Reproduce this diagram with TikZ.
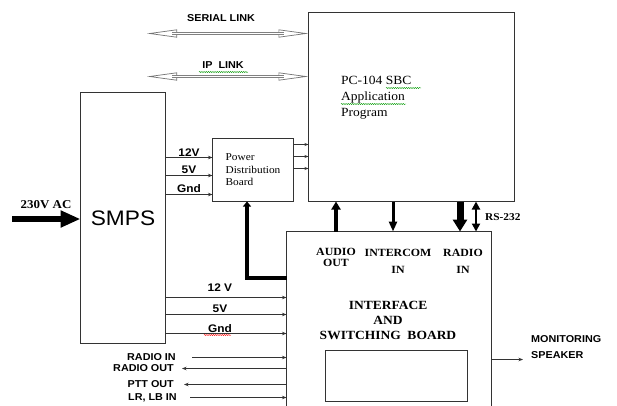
\documentclass[tikz,border=0pt]{standalone}
\usepackage{fontspec}
\setmainfont{Liberation Serif}[FakeStretch=1.08]
\setsansfont{Liberation Sans}[FakeStretch=1.08]
\usetikzlibrary{arrows.meta,decorations.pathmorphing}

\begin{document}
\begin{tikzpicture}[x=1pt, y=-1pt,
  box/.style={draw=black!80, line width=0.9pt, inner sep=0pt, outer sep=0pt},
  wire/.style={draw=black!80, line width=0.8pt, -{Stealth[length=4.5pt,width=3.5pt]}},
  linktips/.style={draw=black!55, line width=0.7pt,
    {Triangle[open,length=30pt,width=8pt,fill=white]}-{Triangle[open,length=30pt,width=8pt,fill=white]}},
  linkbody/.style={draw=black!50, line width=1pt, double=white, double distance=1pt,
    shorten <=25pt, shorten >=25pt},
  sans/.style={font=\sffamily\bfseries\fontsize{10}{12}\selectfont, inner sep=1pt},
  volt/.style={font=\sffamily\bfseries\fontsize{11}{13}\selectfont, inner sep=1pt},
  serif/.style={font=\bfseries\fontsize{11}{11.5}\selectfont, align=center, inner sep=0pt},
  squig/.style={green!60!black, line width=0.4pt, decorate,
    decoration={snake, amplitude=0.6pt, segment length=2.2pt}}
]
\clip (0,0) rectangle (617,405);

\node[box, minimum width=85pt, minimum height=251pt, font=\sffamily\fontsize{21}{24}\selectfont] (smps) at (123,218) {SMPS};
\node[box, minimum width=81pt, minimum height=63pt, align=left, font=\fontsize{10.5}{12.5}\selectfont] (pdb) at (253,170) {Power\\Distribution\\Board};
\node[box, minimum width=206pt, minimum height=189pt] (pc) at (411.5,107) {};
\node[box, minimum width=205pt, minimum height=189pt] (isb) at (389,326) {};
\node[box, minimum width=142pt, minimum height=51pt] (disp) at (396.5,376) {};

\node[anchor=west, align=left, font=\fontsize{12.5}{16}\selectfont, inner sep=0pt] (pctext) at (341,98) {PC-104 SBC\\Application\\Program};
\draw[squig] (386,88) -- (421,88);
\draw[squig] (341,104) -- (406,104);

\coordinate (serial) at (147,33.5);
\coordinate (ip) at (147,76.5);
\draw[linktips] (serial) -- (pc.west |- serial);
\draw[linkbody] (serial) -- (pc.west |- serial);
\draw[linktips] (ip) -- (pc.west |- ip);
\draw[linkbody] (ip) -- (pc.west |- ip);
\node[sans] (lserial) at (221,18) {SERIAL LINK};
\node[sans] (lip) at (223,65) {IP\ \ LINK};
\draw[squig] (199,72) -- (248,72);

\coordinate (ac) at (12,219);
\draw[line width=5.5pt, -{Triangle[length=20pt,width=16pt]}] (ac) -- (smps.west |- ac);
\node[serif, font=\bfseries\fontsize{12}{13}\selectfont] (l230) at (46,205) {230V AC};

\foreach \y/\t [count=\i] in {157.5/12V, 175.5/5V, 194.5/Gnd}
  \draw[wire] (smps.east |- 0,\y) -- node[volt, above] (u\i) {\t} (pdb.west |- 0,\y);

\foreach \y in {144.5,156.5,168.5}
  \draw[wire, -{Stealth[length=4pt,width=3pt]}] (pdb.east |- 0,\y) -- (pc.west |- 0,\y);

\foreach \y/\t/\d [count=\i] in {297.5/12 V/5pt, 314.5/5V/1pt, 333.5/Gnd/0pt}
  \draw[wire] (smps.east |- 0,\y) -- node[volt, above=\d, pos=0.45] (w\i) {\t} (isb.west |- 0,\y);
\draw[squig, red] (204,335) -- (231,335);

\coordinate (pdbout) at (247,278);
\draw[line width=4pt, -{Triangle[length=5pt,width=8pt]}] (isb.west |- pdbout) -- (pdbout) -- (pdbout |- pdb.south);

\node[serif] (laudio) at (336,257.5) {AUDIO\\OUT};
\node[serif, font=\bfseries\fontsize{11}{17}\selectfont] (lint) at (398,261.5) {INTERCOM\\IN};
\node[serif, font=\bfseries\fontsize{11}{17}\selectfont] (lradio) at (463,261.5) {RADIO\\IN};
\node[serif, font=\bfseries\fontsize{12.5}{15}\selectfont] (lisb) at (388,320) {INTERFACE\\AND\\SWITCHING~ BOARD};

\coordinate (xint) at (393,0);
\coordinate (xradio) at (460,0);
\coordinate (xrs) at (476,0);
\draw[line width=4pt, -{Triangle[length=8pt,width=9pt]}] (isb.north -| laudio) -- (pc.south -| laudio);
\draw[line width=3pt, -{Triangle[length=10pt,width=8pt]}] (pc.south -| xint) -- (isb.north -| xint);
\draw[line width=7pt, -{Triangle[length=12pt,width=14pt]}] (pc.south -| xradio) -- (isb.north -| xradio);
\draw[line width=2.5pt, {Triangle[length=8pt,width=8pt]}-{Triangle[length=8pt,width=8pt]}] (pc.south -| xrs) -- (isb.north -| xrs);
\node[serif, anchor=west, font=\bfseries\fontsize{10.5}{12}\selectfont] (lrs) at (485,217) {RS-232};

\node[sans, anchor=east] (rin) at (177,357.5) {RADIO IN};
\node[sans, anchor=east] (rout) at (175,368.5) {RADIO OUT};
\node[sans, anchor=east] (ptt) at (175,384.5) {PTT OUT};
\node[sans, anchor=east, text depth=0pt] (lrlb) at (178,397.5) {LR, LB IN};
\draw[wire] ([xshift=15pt]rin.east) -- (isb.west |- rin);
\draw[wire] (isb.west |- rout) -- ([xshift=7pt]rout.east);
\draw[wire] (isb.west |- ptt) -- ([xshift=9pt]ptt.east);
\draw[wire] ([xshift=12pt]lrlb.east) -- (isb.west |- lrlb);

\coordinate (spk) at (523,359.5);
\draw[wire] (isb.east |- spk) -- (spk);
\node[sans, anchor=west, align=left, font=\sffamily\bfseries\fontsize{10}{16}\selectfont] (lmon) at (530,347) {MONITORING\\SPEAKER};
\end{tikzpicture}
\end{document}
